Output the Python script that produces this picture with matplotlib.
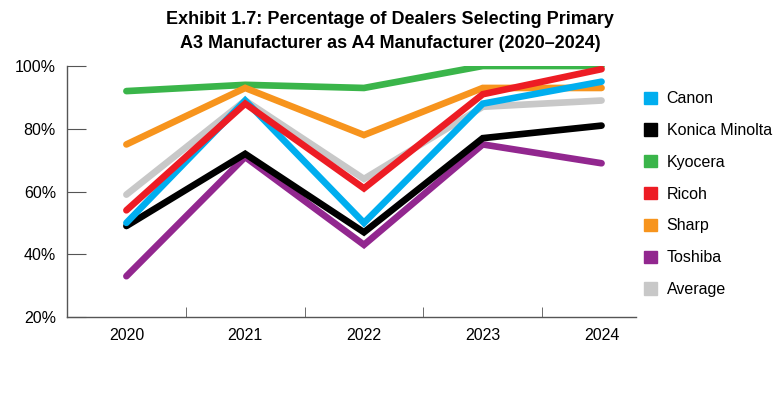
import matplotlib
matplotlib.use("Agg")
import matplotlib.pyplot as plt
import matplotlib.patches as mpatches
import numpy as np

years = ["2020", "2021", "2022", "2023", "2024"]
canon   = [50, 89, 50, 88, 95]
konica  = [49, 72, 47, 77, 81]
kyocera = [92, 94, 93, 100, 100]
ricoh   = [54, 88, 61, 91, 99]
sharp   = [75, 93, 78, 93, 93]
toshiba = [33, 71, 43, 75, 69]
average = [59, 89, 64, 87, 89]

LEGEND_ORDER = ["Canon", "Konica Minolta", "Kyocera", "Ricoh", "Sharp", "Toshiba", "Average"]
COLORS = {
    "Canon": "#00aeef",
    "Konica Minolta": "#000000",
    "Kyocera": "#3ab54a",
    "Ricoh": "#ed1c24",
    "Sharp": "#f7941d",
    "Toshiba": "#92278f",
    "Average": "#c8c8c8",
}
SERIES = {
    "Canon": canon, "Konica Minolta": konica, "Kyocera": kyocera,
    "Ricoh": ricoh, "Sharp": sharp, "Toshiba": toshiba, "Average": average,
}
DRAW_ORDER = ["Average", "Kyocera", "Sharp", "Toshiba", "Konica Minolta", "Canon", "Ricoh"]

plt.rcParams["font.family"] = ["Liberation Sans", "DejaVu Sans"]

fig = plt.figure(figsize=(7.8, 4.0), dpi=100)
ax = fig.add_axes([67 / 780, 1 - 317 / 400, (636 - 67) / 780, (317 - 66) / 400])

x = np.arange(len(years))
for name in DRAW_ORDER:
    ax.plot(x, SERIES[name], color=COLORS[name], lw=4.8, solid_capstyle="round",
            solid_joinstyle="miter")

ax.set_xlim(-0.5, 4.29)
ax.set_ylim(20, 100)
ax.set_yticks([20, 40, 60, 80, 100])
ax.set_yticklabels([f"{v}%" for v in [20, 40, 60, 80, 100]], fontsize=11.5)
ax.set_xticks(x)
ax.set_xticklabels(years, fontsize=11.5)
ax.tick_params(axis="x", length=0, pad=8)
ax.set_xticks([0.5, 1.5, 2.5, 3.5], minor=True)
ax.tick_params(axis="x", which="minor", direction="in", length=7, color="#555555")
ax.tick_params(axis="y", direction="in", length=14, color="#555555", pad=8)
for s in ["top", "right"]:
    ax.spines[s].set_visible(False)
for s in ["left", "bottom"]:
    ax.spines[s].set_color("#555555")
    ax.spines[s].set_linewidth(1.0)

fig.text(0.5, 1 - 20 / 400, "Exhibit 1.7: Percentage of Dealers Selecting Primary",
         ha="center", va="center", fontsize=13, fontweight="bold")
fig.text(0.5, 1 - 43 / 400, "A3 Manufacturer as A4 Manufacturer (2020\u20132024)",
         ha="center", va="center", fontsize=13, fontweight="bold")

handles = [mpatches.Patch(color=COLORS[n], label=n) for n in LEGEND_ORDER]
fig.legend(handles=handles, loc="upper left", bbox_to_anchor=(630 / 780, 1 - 77 / 400),
           frameon=False, fontsize=11.5, handlelength=0.8, handleheight=0.8,
           handletextpad=0.6, labelspacing=1.05)

fig.savefig("out.png", dpi=100)
